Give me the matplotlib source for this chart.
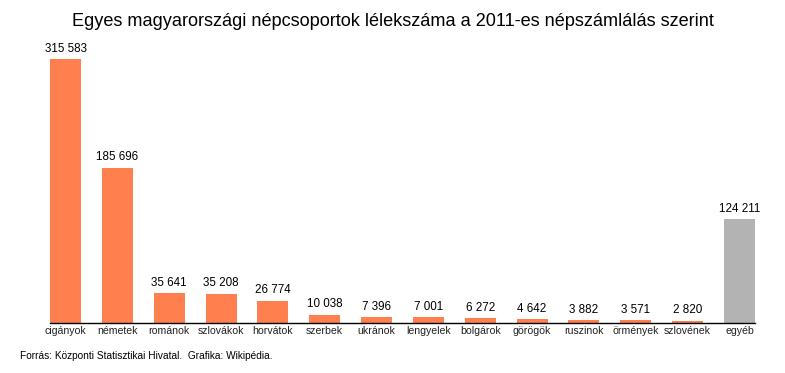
import matplotlib
matplotlib.use("Agg")
import matplotlib.pyplot as plt

plt.rcParams['font.family'] = ['Liberation Sans', 'DejaVu Sans']

groups = ['cigányok', 'németek', 'románok', 'szlovákok', 'horvátok', 'szerbek',
          'ukránok', 'lengyelek', 'bolgárok', 'görögök', 'ruszinok', 'örmények',
          'szlovének', 'egyéb']
counts = [315583, 185696, 35641, 35208, 26774, 10038, 7396, 7001, 6272,
          4642, 3882, 3571, 2820, 124211]
labels = ['315 583', '185 696', '35 641', '35 208', '26 774', '10 038', '7 396',
          '7 001', '6 272', '4 642', '3 882', '3 571', '2 820', '124 211']

colors = ['#ff7f4f'] * (len(groups) - 1) + ['#b3b3b3']

W, H = 785, 373
fig = plt.figure(figsize=(W / 100, H / 100), dpi=100)
# axes in pixel coords: left 50, right 755, bottom 323, top 50
ax = fig.add_axes([50 / W, 1 - 323 / H, 705 / W, 273 / H])

x = range(len(groups))
ax.bar(x, counts, width=0.6, color=colors)
ax.set_xlim(-0.3, len(groups) - 0.7)
ax.set_ylim(0, counts[0] * 273 / 264)

for xi, v, lab in zip(x, counts, labels):
    ax.annotate(lab, (xi, v), xytext=(0, 3), textcoords='offset points',
                ha='center', va='bottom', fontsize=8.4)

ax.set_xticks(list(x))
ax.set_xticklabels(groups, fontsize=7.6, color='#222222')
ax.tick_params(axis='x', length=0, pad=2.5)
ax.set_yticks([])
for s in ['top', 'right', 'left']:
    ax.spines[s].set_visible(False)
ax.spines['bottom'].set_linewidth(1)

fig.text(0.5, 1 - 22 / H, 'Egyes magyarországi népcsoportok lélekszáma a 2011-es népszámlálás szerint',
         ha='center', va='center', fontsize=13.1)
fig.text(20 / W, 1 - 356 / H, 'Forrás: Központi Statisztikai Hivatal.  Grafika: Wikipédia.',
         ha='left', va='center', fontsize=7.3)

fig.savefig('out.png', dpi=100)
